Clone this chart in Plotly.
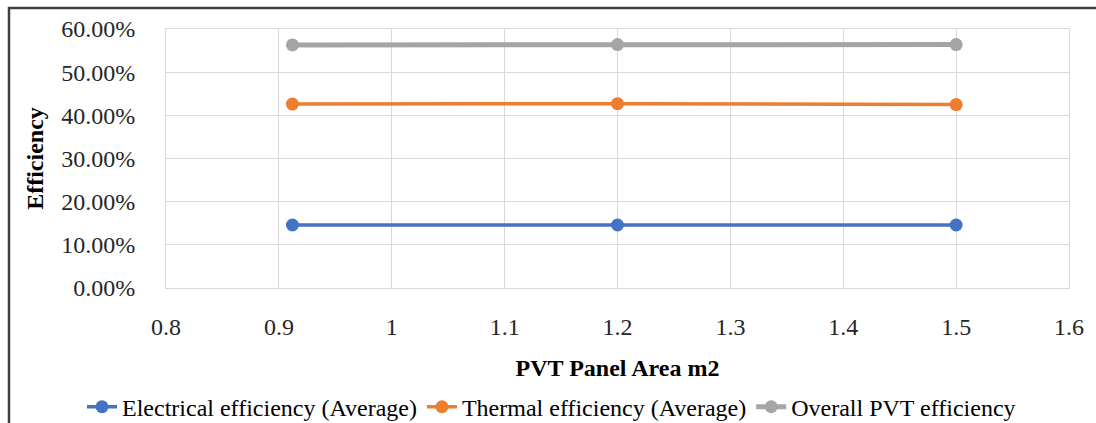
import plotly.graph_objects as go

# Panel areas (m2) and average efficiencies (%)
panel_area = [0.912, 1.2, 1.5]
electrical_eff = [14.6, 14.6, 14.6]
thermal_eff = [42.6, 42.7, 42.5]
overall_eff = [56.3, 56.4, 56.4]

series_names = [
    "Electrical efficiency (Average)",
    "Thermal efficiency (Average)",
    "Overall PVT efficiency",
]
series_colors = ["#4472C4", "#ED7D31", "#A5A5A5"]
series_widths = [3.5, 3.5, 5]

y_ticks = [0, 10, 20, 30, 40, 50, 60]
y_tick_text = [f"{v:.2f}%" for v in y_ticks]
x_ticks = [0.8, 0.9, 1.0, 1.1, 1.2, 1.3, 1.4, 1.5, 1.6]
x_tick_text = ["0.8", "0.9", "1", "1.1", "1.2", "1.3", "1.4", "1.5", "1.6"]

FONT = "Liberation Serif, Times New Roman, serif"
GRID = "#d9d9d9"

fig = go.Figure()
for name, vals, color, w in zip(series_names, [electrical_eff, thermal_eff, overall_eff],
                                series_colors, series_widths):
    fig.add_trace(go.Scatter(
        x=panel_area, y=vals, name=name, mode="lines+markers",
        line=dict(color=color, width=w),
        marker=dict(color=color, size=13),
    ))

fig.update_layout(
    width=1096, height=423,
    margin=dict(l=166, r=27, t=29, b=135, autoexpand=False),
    paper_bgcolor="white", plot_bgcolor="white",
    font=dict(family=FONT, size=24, color="#262626"),
    showlegend=True,
    legend=dict(
        orientation="h", x=-0.093, xanchor="left",
        y=-0.46, yanchor="middle",
        font=dict(family=FONT, size=24, color="#000000"),
        itemwidth=30, tracegroupgap=0, bgcolor="rgba(0,0,0,0)",
    ),
    xaxis=dict(
        range=[0.8, 1.6], tickvals=x_ticks, ticktext=x_tick_text,
        showgrid=True, gridcolor=GRID, gridwidth=1,
        showline=True, linecolor=GRID, linewidth=1, mirror=True,
        zeroline=False, ticks="", ticklabelstandoff=17, automargin=False,
        title=dict(text="<b>PVT Panel Area m2</b>", font=dict(family=FONT, size=24, color="#000000"), standoff=20),
    ),
    yaxis=dict(
        range=[0, 60], tickvals=y_ticks, ticktext=y_tick_text,
        showgrid=True, gridcolor=GRID, gridwidth=1,
        showline=True, linecolor=GRID, linewidth=1, mirror=True,
        zeroline=False, ticks="", ticklabelstandoff=25, automargin=False,
        title=dict(text="<b>Efficiency</b>", font=dict(family=FONT, size=24, color="#000000"), standoff=10),
    ),
)

# Outer frame around the chart
fig.add_shape(
    type="rect", xref="paper", yref="paper",
    x0=-157 / 903, x1=1.2, y0=-1.0, y1=1 + 21 / 259,
    line=dict(color="#404040", width=2.5), fillcolor="rgba(0,0,0,0)", layer="above",
)

fig.write_html("out.html")
